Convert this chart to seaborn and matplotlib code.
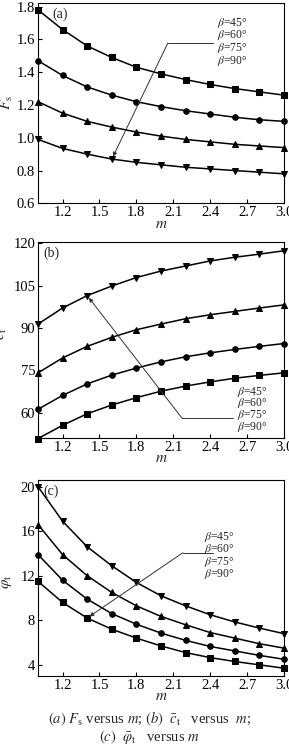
import matplotlib
matplotlib.use("Agg")
import matplotlib.pyplot as plt
import seaborn as sns
import pandas as pd

m_values = [1.0, 1.2, 1.4, 1.6, 1.8, 2.0, 2.2, 2.4, 2.6, 2.8, 3.0]
beta_labels = [r"$\beta$=45°", r"$\beta$=60°", r"$\beta$=75°", r"$\beta$=90°"]

fs_45 = [1.78, 1.66, 1.56, 1.49, 1.43, 1.39, 1.355, 1.325, 1.30, 1.28, 1.26]
fs_60 = [1.47, 1.38, 1.31, 1.26, 1.22, 1.19, 1.165, 1.145, 1.125, 1.11, 1.10]
fs_75 = [1.22, 1.15, 1.10, 1.065, 1.035, 1.01, 0.99, 0.975, 0.96, 0.95, 0.94]
fs_90 = [0.99, 0.935, 0.90, 0.87, 0.85, 0.835, 0.82, 0.81, 0.80, 0.79, 0.78]

c_45 = [50.8, 55.5, 59.6, 62.7, 65.3, 67.6, 69.4, 70.9, 72.2, 73.2, 74.1]
c_60 = [61.2, 66.1, 70.2, 73.3, 75.8, 78.0, 79.8, 81.2, 82.4, 83.5, 84.5]
c_75 = [74.1, 79.4, 83.5, 86.7, 89.4, 91.4, 93.3, 94.7, 95.9, 97.1, 98.2]
c_90 = [91.4, 97.1, 101.5, 104.9, 107.9, 110.2, 112.0, 113.8, 115.1, 116.2, 117.4]

phi_45 = [11.5, 9.6, 8.2, 7.2, 6.4, 5.7, 5.1, 4.65, 4.3, 4.0, 3.7]
phi_60 = [13.9, 11.6, 9.9, 8.6, 7.65, 6.85, 6.2, 5.65, 5.25, 4.85, 4.5]
phi_75 = [16.6, 13.9, 12.0, 10.5, 9.3, 8.35, 7.6, 6.9, 6.4, 5.9, 5.5]
phi_90 = [20.0, 16.9, 14.6, 12.9, 11.4, 10.2, 9.3, 8.5, 7.85, 7.3, 6.8]

x_ticks = [1.2, 1.5, 1.8, 2.1, 2.4, 2.7, 3.0]
fs_ticks = [0.6, 0.8, 1.0, 1.2, 1.4, 1.6, 1.8]
c_ticks = [60, 75, 90, 105, 120]
phi_ticks = [4, 8, 12, 16, 20]

sns.set_theme(style="ticks")
plt.rcParams["font.family"] = ["Liberation Serif", "DejaVu Serif"]
plt.rcParams["mathtext.fontset"] = "stix"

markers = {beta_labels[0]: "s", beta_labels[1]: "o", beta_labels[2]: "^", beta_labels[3]: "v"}
palette = {b: "black" for b in beta_labels}


def make_df(series):
    rows = []
    for lab, vals in zip(beta_labels, series):
        for m, v in zip(m_values, vals):
            rows.append({"m": m, "val": v, "beta": lab})
    return pd.DataFrame(rows)


fig = plt.figure(figsize=(2.89, 7.5), dpi=100)
L, W = 0.1315, 0.851
ax_a = fig.add_axes([L, 0.7289, W, 0.2675])
ax_b = fig.add_axes([L, 0.4160, W, 0.2613])
ax_c = fig.add_axes([L, 0.0987, W, 0.2613])

panels = [
    (ax_a, [fs_45, fs_60, fs_75, fs_90], fs_ticks, (0.6, 1.824), r"$F_{\rm s}$", "(a)", 0.057,
     [f"{t:.1f}" for t in fs_ticks], -0.095, 0.5),
    (ax_b, [c_45, c_60, c_75, c_90], c_ticks, (51, 120.5), r"$\bar{c}_{\rm t}$", "(b)", 0.02,
     [str(t) for t in c_ticks], -0.118, 0.53),
    (ax_c, [phi_45, phi_60, phi_75, phi_90], phi_ticks, (3.0, 20.6), r"$\bar{\varphi}_{\rm t}$", "(c)", 0.02,
     [str(t) for t in phi_ticks], -0.095, 0.48),
]

for ax, series, yt, ylim, ylab, tag, tagx, ytl, lx, ly in panels:
    df = make_df(series)
    sns.lineplot(data=df, x="m", y="val", hue="beta", style="beta", markers=markers,
                 dashes=False, palette=palette, ax=ax, legend=False, linewidth=1.1,
                 markersize=4, markeredgecolor="black", clip_on=False)
    ax.set_xlim(1.0, 3.0)
    ax.set_ylim(*ylim)
    ax.set_xticks(x_ticks)
    ax.set_xticklabels([f"{t:.1f}" for t in x_ticks])
    ax.set_yticks(yt)
    ax.set_yticklabels(ytl)
    ax.tick_params(direction="in", length=3, width=0.8, labelsize=10.5, pad=2, colors="black")
    for s in ax.spines.values():
        s.set_linewidth(0.8)
        s.set_color("black")
    ax.set_xlabel(r"$m$", fontsize=11)
    ax.xaxis.set_label_coords(0.5, -0.107)
    ax.xaxis.label.set_va("center")
    ax.set_ylabel(ylab, fontsize=11)
    ax.yaxis.set_label_coords(lx, ly)
    ax.text(tagx, 0.975, tag, transform=ax.transAxes, ha="left", va="top", fontsize=10)

# legends / connectors
arrow_kw = dict(arrowstyle="-|>", color="#333333", lw=0.7, mutation_scale=6, shrinkA=0, shrinkB=2)
leg_fs = 8.4

# (a)
for lab, yf in zip(beta_labels, [0.90, 0.84, 0.775, 0.708]):
    ax_a.text(0.728, yf, lab, transform=ax_a.transAxes, fontsize=leg_fs, va="center", ha="left")
ax_a.plot([0.528, 0.711], [0.799, 0.799], transform=ax_a.transAxes, color="#333333", lw=0.7)
ax_a.annotate("", xy=(m_values[3], fs_90[3]), xycoords="data",
              xytext=(0.528, 0.799), textcoords="axes fraction", arrowprops=arrow_kw)

# (b)
for lab, yf in zip(beta_labels, [0.235, 0.177, 0.117, 0.055]):
    ax_b.text(0.81, yf, lab, transform=ax_b.transAxes, fontsize=leg_fs, va="center", ha="left")
ax_b.plot([0.585, 0.793], [0.102, 0.102], transform=ax_b.transAxes, color="#333333", lw=0.7)
ax_b.annotate("", xy=(m_values[2], c_90[2]), xycoords="data",
              xytext=(0.585, 0.102), textcoords="axes fraction", arrowprops=arrow_kw)

# (c)
for lab, yf in zip(beta_labels, [0.711, 0.648, 0.584, 0.518]):
    ax_c.text(0.675, yf, lab, transform=ax_c.transAxes, fontsize=leg_fs, va="center", ha="left")
ax_c.plot([0.589, 0.711], [0.629, 0.629], transform=ax_c.transAxes, color="#333333", lw=0.7)
ax_c.annotate("", xy=(m_values[2], phi_45[2]), xycoords="data",
              xytext=(0.589, 0.629), textcoords="axes fraction", arrowprops=arrow_kw)

fig.text(0.516, 1 - 719 / 750, r"$(a)$ $F_{\rm s}$ versus $m$; $(b)$  $\bar{c}_{\rm t}$   versus  $m$;",
         ha="center", va="center", fontsize=10.5)
fig.text(0.516, 1 - 737 / 750, r"$(c)$  $\bar{\varphi}_{\rm t}$   versus $m$",
         ha="center", va="center", fontsize=10.5)

fig.savefig("out.png", dpi=100)
